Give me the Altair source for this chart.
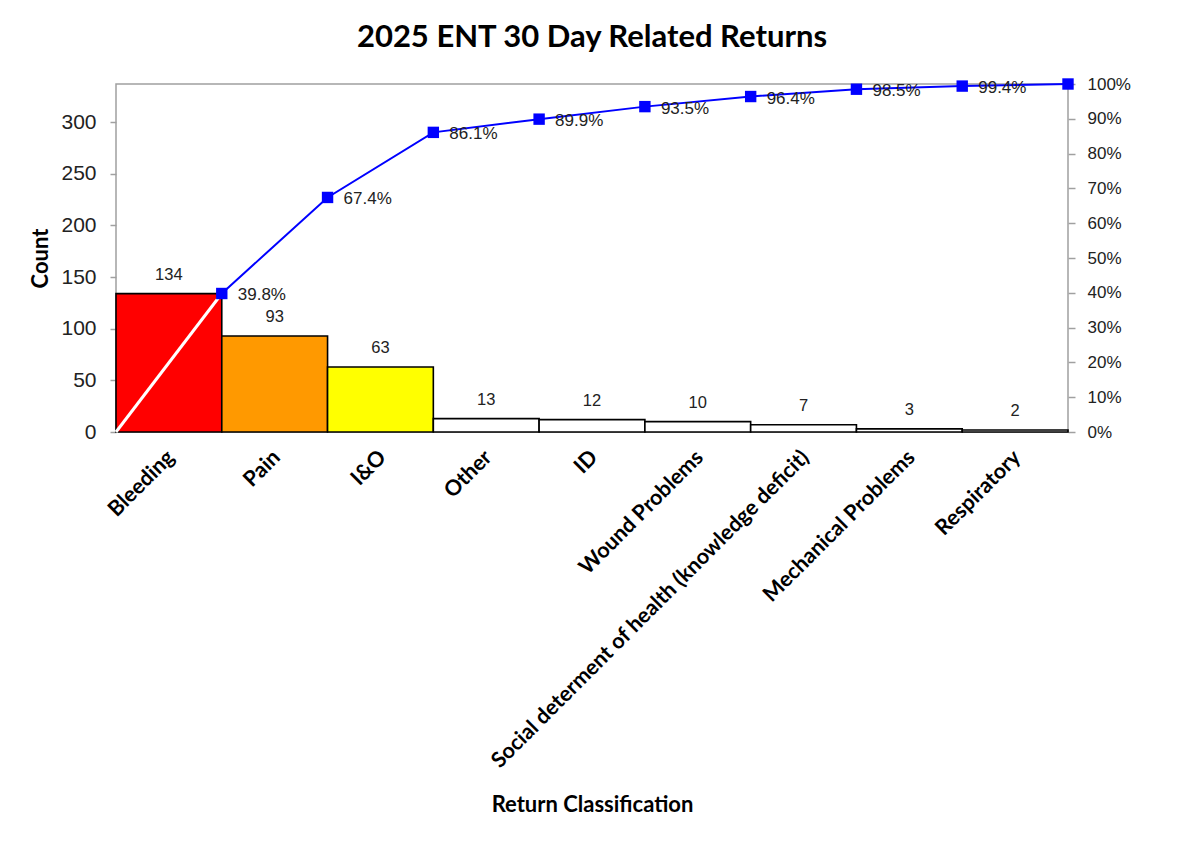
import json
import altair as alt
import pandas as pd

categories = ["Bleeding", "Pain", "I&O", "Other", "ID", "Wound Problems",
              "Social determent of health (knowledge deficit)",
              "Mechanical Problems", "Respiratory"]
counts = [134, 93, 63, 13, 12, 10, 7, 3, 2]
cum_pct = [39.8, 67.4, 86.1, 89.9, 93.5, 96.4, 98.5, 99.4, 100.0]
bar_colors = ["#FF0000", "#FF9900", "#FFFF00", "#FFFFFF", "#FFFFFF",
              "#FFFFFF", "#FFFFFF", "#FFFFFF", "#FFFFFF"]
count_ticks = [0, 50, 100, 150, 200, 250, 300]
pct_ticks = [0, 0.1, 0.2, 0.3, 0.4, 0.5, 0.6, 0.7, 0.8, 0.9, 1.0]

total = sum(counts)
n = len(categories)

df = pd.DataFrame({
    "cat": categories,
    "count": counts,
    "base": [0] * n,
    "idx": list(range(n)),
    "idx2": [i + 1 for i in range(n)],
    "xm": [i + 0.5 for i in range(n)],
    "cum": [p / 100 for p in cum_pct],
    "pctlabel": [f"{p:.1f}%" if p < 100 else "" for p in cum_pct],
    "color": bar_colors,
})
white_df = pd.DataFrame({"idx2": [0, 1], "cum": [0, cum_pct[0] / 100]})

label_expr = json.dumps(categories) + "[floor(datum.value)]"

xscale = alt.Scale(domain=[0, n], nice=False, zero=False)
yscale = alt.Scale(domain=[0, total], nice=False)
pscale = alt.Scale(domain=[0, 1], nice=False)

x_axis = alt.Axis(
    title="Return Classification",
    values=[i + 0.5 for i in range(n)],
    labelExpr=label_expr,
    labelAngle=315,
    labelAlign="right",
    labelBaseline="middle",
    labelFont="Lato",
    labelFontWeight="bold",
    labelFontSize=21.5,
    labelColor="#000000",
    labelPadding=22,
    labelOffset=2,
    labelOverlap=False,
    labelFlush=False,
    labelLimit=0,
    ticks=False,
    domain=False,
    grid=False,
    titleFont="Lato",
    titleFontSize=22,
    titleFontWeight="bold",
    titleColor="#000000",
    titleY=372,
    titleBaseline="middle",
)

y_axis = alt.Axis(
    title="Count", values=count_ticks, grid=False, domain=False,
    tickColor="#A0A0A0", tickSize=6, tickWidth=1.5,
    labelFont="Liberation Sans", labelFontSize=21, labelColor="#222222",
    labelPadding=14,
    titleFont="Lato", titleFontSize=22, titleFontWeight="bold",
    titleColor="#000000", titlePadding=8)

p_axis = alt.Axis(
    orient="right", values=pct_ticks, format=".0%", grid=False,
    domain=False, tickColor="#A0A0A0", tickSize=7, tickWidth=1.5,
    labelFont="Liberation Sans", labelFontSize=17, labelColor="#222222",
    labelPadding=12, title=None)

bars = alt.Chart(df).mark_bar(stroke="#000000", strokeWidth=1.6).encode(
    x=alt.X("idx:Q", scale=xscale, axis=x_axis),
    x2="idx2:Q",
    y=alt.Y("count:Q", scale=yscale, axis=y_axis),
    y2="base:Q",
    fill=alt.Fill("color:N", scale=None),
)

bar_text = alt.Chart(df).mark_text(
    font="Liberation Sans", fontSize=16.5, color="#222222",
    baseline="alphabetic", dy=-14,
).encode(
    x=alt.X("xm:Q", scale=xscale, axis=x_axis),
    y=alt.Y("count:Q", scale=yscale, axis=y_axis),
    text="count:Q",
)

left = alt.layer(bars, bar_text)

white_line = alt.Chart(white_df).mark_line(color="#FFFFFF", strokeWidth=3).encode(
    x=alt.X("idx2:Q", scale=xscale, axis=x_axis),
    y=alt.Y("cum:Q", scale=pscale, axis=p_axis),
)

blue_line = alt.Chart(df).mark_line(color="#0000FF", strokeWidth=2).encode(
    x=alt.X("idx2:Q", scale=xscale, axis=x_axis),
    y=alt.Y("cum:Q", scale=pscale, axis=p_axis),
)

points = alt.Chart(df).mark_point(
    shape="square", filled=True, color="#0000FF", size=130, opacity=1
).encode(
    x=alt.X("idx2:Q", scale=xscale, axis=x_axis),
    y=alt.Y("cum:Q", scale=pscale, axis=p_axis),
)

pct_text = alt.Chart(df).mark_text(
    font="Liberation Sans", fontSize=17, color="#222222",
    align="left", baseline="middle", dx=16, dy=2,
).encode(
    x=alt.X("idx2:Q", scale=xscale, axis=x_axis),
    y=alt.Y("cum:Q", scale=pscale, axis=p_axis),
    text="pctlabel:N",
)

right = alt.layer(white_line, blue_line, points, pct_text)

chart = alt.layer(left, right).resolve_scale(y="independent").properties(
    width=952,
    height=348,
    autosize=alt.AutoSizeParams(type="none"),
    padding={"left": 108, "top": 76, "right": 100, "bottom": 395},
    background="#FFFFFF",
    title=alt.TitleParams(
        "2025 ENT 30 Day Related Returns",
        font="Lato", fontSize=31, fontWeight="bold", color="#000000",
        anchor="middle", offset=21,
    ),
).configure_view(
    stroke="#A0A0A0", strokeWidth=1.5
)

chart.save("out.html", embed_options={"renderer": "svg", "actions": False})
